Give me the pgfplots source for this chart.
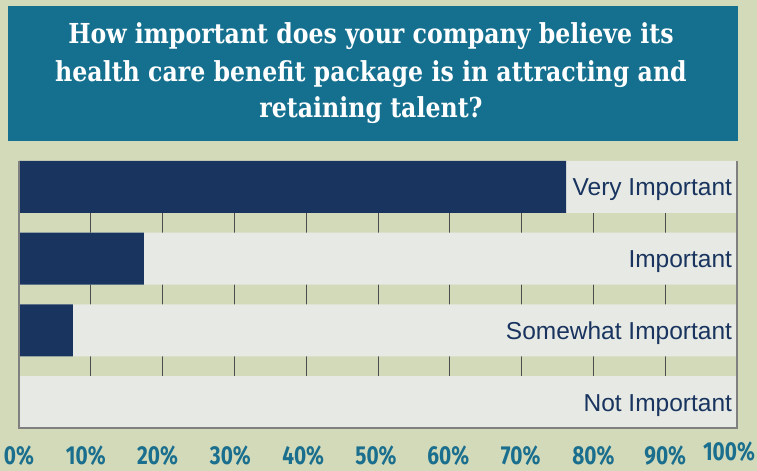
\documentclass[border=0pt]{standalone}
\usepackage{fontspec}
\usepackage{pgfplots}
\pgfplotsset{compat=1.18}
\setmainfont{Liberation Sans}
\newfontfamily\titlefont{DejaVu Serif}[FakeStretch=0.86]
\newfontfamily\tickfont{Fira Sans}[FakeStretch=0.8]
\definecolor{sage}{HTML}{D2DAB9}
\definecolor{hdr}{HTML}{15708F}
\definecolor{navy}{HTML}{18345F}
\definecolor{barbg}{HTML}{E7E9E4}
\definecolor{tickc}{HTML}{1A6E8E}
\newcommand\tl[2]{\mbox{\hspace{#1}#2}}
\begin{document}
\begin{tikzpicture}[x=1bp,y=1bp]
\fill[sage] (0,0) rectangle (757,471);
\fill[hdr] (8,330) rectangle (738,465);
\tikzset{ttl/.style={anchor=base,text=white,font={\titlefont\bfseries\fontsize{27.5bp}{30bp}\selectfont}}}
\node[ttl] at (371,427.5) {How important does your company believe its};
\node[ttl] at (371,389.3) {health care benefit package is in attracting and};
\node[ttl] at (371,353) {retaining talent?};
\begin{axis}[
  at={(19bp,43bp)}, anchor=south west,
  scale only axis, width=718bp, height=267bp,
  xmin=0, xmax=100, ymin=-0.361, ymax=3.361,
  xbar, bar width=0.722, bar shift=0pt,
  axis line style={draw=none},
  ytick=\empty,
  xtick={0,10,...,100},
  xticklabels={\tl{0bp}{0\%},\tl{-10bp}{10\%},\tl{-10bp}{20\%},\tl{-8bp}{30\%},
    \tl{-6bp}{40\%},\tl{-4bp}{50\%},\tl{-3bp}{60\%},\tl{-2bp}{70\%},
    \tl{0bp}{80\%},\tl{0bp}{90\%},\tl{-16bp}{\raisebox{4bp}{100\%}}},
  major tick length=0pt,
  xticklabel style={anchor=base, yshift=-37bp, text=tickc, inner sep=0pt,
    font={\tickfont\bfseries\fontsize{26bp}{28bp}\selectfont}},
  xmajorgrids, grid style={draw=black!70, line width=1bp},
  clip=false,
]
\addplot[fill=barbg, draw=none, point meta=explicit symbolic,
  nodes near coords,
  every node near coord/.append style={anchor=base east, xshift=-1.5bp, yshift=-9bp,
    text=navy, font={\fontsize{24.5bp}{26bp}\selectfont}}]
  coordinates {(100,3) [Very Important] (100,2) [Important]
               (100,1) [Somewhat Important] (100,0) [Not Important]};
\addplot[fill=navy, draw=none]
  coordinates {(76.2,3) (17.4,2) (7.5,1) (0,0)};
\draw[black!50, line width=1.5bp] (rel axis cs:0,1) -- (rel axis cs:0,0)
  -- (rel axis cs:1,0) -- (rel axis cs:1,1);
\end{axis}
\pgfresetboundingbox
\path[use as bounding box] (0,0) rectangle (757,471);
\end{tikzpicture}
\end{document}
